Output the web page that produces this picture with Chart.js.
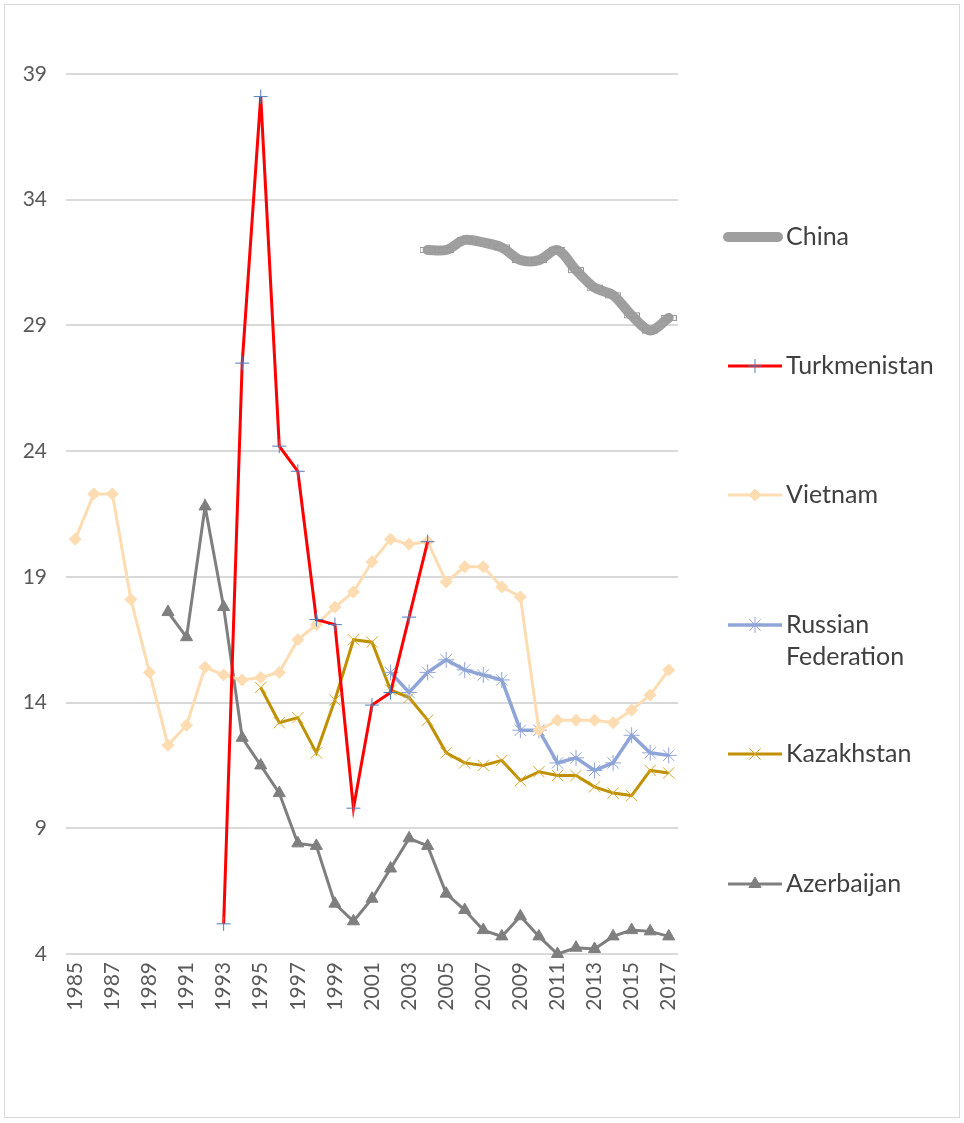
<!DOCTYPE html>
<html>
<head>
<meta charset="utf-8">
<script src="https://cdn.jsdelivr.net/npm/chart.js@4.4.1/dist/chart.umd.min.js"></script>
<style>
  html, body { margin: 0; padding: 0; background: #fff; }
  canvas { display: block; }
</style>
</head>
<body>
<canvas id="chart" width="964" height="1123"></canvas>
<script>
// years on the category axis
const years = ['1985','1986','1987','1988','1989','1990','1991','1992','1993','1994',
  '1995','1996','1997','1998','1999','2000','2001','2002','2003','2004',
  '2005','2006','2007','2008','2009','2010','2011','2012','2013','2014',
  '2015','2016','2017'];

const yTicks = [4, 9, 14, 19, 24, 29, 34, 39];

const china = [null,null,null,null,null,null,null,null,null,null,
  null,null,null,null,null,null,null,null,null,
  32.0,32.0,32.4,32.3,32.1,31.6,31.6,32.0,31.2,30.5,30.2,29.4,28.8,29.3];

const turkmenistan = [null,null,null,null,null,null,null,null,
  5.2,27.5,38.1,24.2,23.2,17.3,17.1,9.8,13.9,14.4,17.4,20.4,
  null,null,null,null,null,null,null,null,null,null,null,null,null];

const vietnam = [20.5,22.3,22.3,18.1,15.2,12.3,13.1,15.4,15.1,14.9,
  15.0,15.2,16.5,17.1,17.8,18.4,19.6,20.5,20.3,20.4,
  18.8,19.4,19.4,18.6,18.2,12.9,13.3,13.3,13.3,13.2,
  13.7,14.3,15.3];

const russia = [null,null,null,null,null,null,null,null,null,null,
  null,null,null,null,null,null,null,
  15.2,14.4,15.2,15.7,15.3,15.1,14.9,12.9,12.9,11.6,11.8,11.3,11.6,12.7,12.0,11.9];

const kazakhstan = [null,null,null,null,null,null,null,null,null,null,
  14.6,13.2,13.4,12.0,14.1,16.5,16.4,14.5,14.2,13.3,
  12.0,11.6,11.5,11.7,10.9,11.25,11.1,11.1,10.65,10.4,
  10.3,11.3,11.2];

const azerbaijan = [null,null,null,null,null,
  17.6,16.6,21.8,17.8,12.6,11.5,10.4,8.4,8.3,6.0,
  5.3,6.2,7.4,8.6,8.3,6.4,5.75,4.95,4.7,5.5,
  4.7,4.0,4.25,4.2,4.7,4.95,4.9,4.7];

const FONT = 'Lato, "Liberation Sans", sans-serif';

// hollow dash marker for China
function dashMarker() {
  const c = document.createElement('canvas');
  c.width = 16; c.height = 8;
  const g = c.getContext('2d');
  g.strokeStyle = '#9a9a9a';
  g.lineWidth = 1;
  g.strokeRect(0.5, 1.5, 15, 5);
  return c;
}
const chinaMark = dashMarker();

// white background + outer frame
const frame = {
  id: 'frame',
  beforeDraw(chart) {
    const ctx = chart.ctx;
    ctx.save();
    ctx.fillStyle = '#fff';
    ctx.fillRect(0, 0, chart.width, chart.height);
    ctx.restore();
  },
  afterDraw(chart) {
    const ctx = chart.ctx;
    ctx.save();
    ctx.strokeStyle = '#d9d9d9';
    ctx.lineWidth = 1;
    ctx.strokeRect(4.5, 4.5, 955, 1113);
    ctx.restore();
  }
};

// legend on the right, spread out like the original
const sideLegend = {
  id: 'sideLegend',
  afterDraw(chart) {
    const ctx = chart.ctx;
    const rows = [237, 366, 495, 625, 754, 884];
    ctx.save();
    ctx.font = '25px ' + FONT;
    ctx.textBaseline = 'middle';
    chart.data.datasets.forEach((ds, i) => {
      const y = rows[i];
      ctx.strokeStyle = ds.borderColor;
      ctx.lineWidth = ds.borderWidth;
      ctx.lineCap = ds.borderCapStyle || 'butt';
      ctx.beginPath();
      if (i === 0) { ctx.moveTo(728, y); ctx.lineTo(778, y); }
      else { ctx.moveTo(728, y); ctx.lineTo(782, y); }
      ctx.stroke();
      if (i > 0) {
        ctx.fillStyle = ds.pointBackgroundColor;
        ctx.strokeStyle = ds.pointBorderColor;
        ctx.lineWidth = ds.pointBorderWidth;
        Chart.helpers.drawPoint(ctx, {
          pointStyle: ds.pointStyle, rotation: 0,
          radius: ds.pointRadius, borderWidth: ds.pointBorderWidth
        }, 755, y);
      }
      ctx.fillStyle = '#404040';
      let lines = [ds.label];
      if (ctx.measureText(ds.label).width > 170) lines = ds.label.split(' ');
      lines.forEach((t, k) => ctx.fillText(t, 786, y + k * 32));
    });
    ctx.restore();
  }
};

const ctx = document.getElementById('chart').getContext('2d');
const myChart = new Chart(ctx, {
  type: 'line',
  data: {
    labels: years,
    datasets: [
      {
        label: 'China', data: china,
        borderColor: '#9f9f9f', borderWidth: 10, borderCapStyle: 'round', borderJoinStyle: 'round',
        tension: 0.3,
        pointStyle: chinaMark, pointRadius: 8,
        pointBackgroundColor: 'rgba(0,0,0,0)', pointBorderColor: '#9a9a9a', pointBorderWidth: 1
      },
      {
        label: 'Turkmenistan', data: turkmenistan,
        borderColor: '#ff0000', borderWidth: 3,
        pointStyle: 'cross', pointRadius: 7,
        pointBackgroundColor: '#4a7ebb', pointBorderColor: '#4a7ebb', pointBorderWidth: 1
      },
      {
        label: 'Vietnam', data: vietnam,
        borderColor: '#fddcb1', borderWidth: 3,
        pointStyle: 'rectRot', pointRadius: 6,
        pointBackgroundColor: '#fddcb1', pointBorderColor: '#fddcb1', pointBorderWidth: 1
      },
      {
        label: 'Russian Federation', data: russia,
        borderColor: '#8fa5d8', borderWidth: 3.5,
        pointStyle: 'star', pointRadius: 8,
        pointBackgroundColor: '#8fa5d8', pointBorderColor: '#8fa5d8', pointBorderWidth: 1
      },
      {
        label: 'Kazakhstan', data: kazakhstan,
        borderColor: '#bf9000', borderWidth: 3,
        pointStyle: 'crossRot', pointRadius: 8,
        pointBackgroundColor: '#d4a72c', pointBorderColor: '#d4a72c', pointBorderWidth: 1
      },
      {
        label: 'Azerbaijan', data: azerbaijan,
        borderColor: '#7f7f7f', borderWidth: 3,
        pointStyle: 'triangle', pointRadius: 7,
        pointBackgroundColor: '#7f7f7f', pointBorderColor: '#7f7f7f', pointBorderWidth: 1
      }
    ]
  },
  options: {
    responsive: false,
    animation: false,
    spanGaps: false,
    clip: false,
    layout: { padding: { top: 74, right: 286, bottom: 0, left: 0 } },
    plugins: {
      legend: { display: false },
      tooltip: { enabled: false }
    },
    scales: {
      x: {
        type: 'category',
        offset: true,
        grid: { display: false, drawTicks: false },
        border: { display: false },
        afterFit: (s) => { s.height = 169; },
        ticks: {
          autoSkip: false,
          maxRotation: 90, minRotation: 90,
          padding: 8,
          color: '#595959',
          font: { family: FONT, size: 21 },
          callback: (v, i) => (i % 2 === 0 ? years[i] : '')
        }
      },
      y: {
        min: yTicks[0], max: yTicks[yTicks.length - 1],
        afterFit: (s) => { s.width = 66; },
        afterBuildTicks: (s) => { s.ticks = yTicks.map(v => ({ value: v })); },
        grid: { color: '#d9d9d9', lineWidth: 2, drawTicks: false },
        border: { display: false },
        ticks: {
          padding: 19,
          color: '#595959',
          font: { family: FONT, size: 21 }
        }
      }
    }
  },
  plugins: [frame, sideLegend]
});
</script>
</body>
</html>
